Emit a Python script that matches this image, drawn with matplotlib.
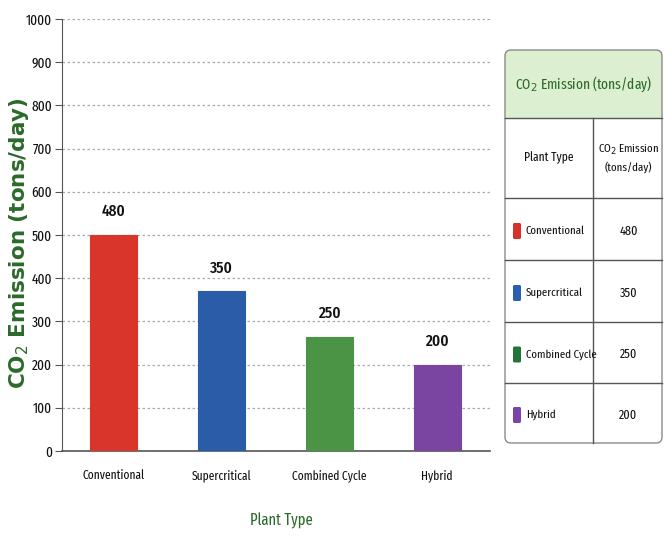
import matplotlib
matplotlib.use("Agg")
import matplotlib.pyplot as plt
from matplotlib.patches import FancyBboxPatch, Rectangle

# data
plant_types = ["Conventional", "Supercritical", "Combined Cycle", "Hybrid"]
bar_heights = [500, 370, 265, 200]      # heights as drawn
label_values = [480, 350, 250, 200]     # numbers printed on the chart / table
bar_colors = ["#d9352b", "#2b5ca8", "#4b9446", "#7a45a0"]
swatch_colors = ["#d8302a", "#2b5db0", "#23733a", "#7b44a8"]
y_ticks = [0, 100, 200, 300, 400, 500, 600, 700, 800, 900, 1000]

NARROW = ["Fira Sans Extra Condensed", "PT Sans Narrow", "DejaVu Sans"]
GREEN = "#2b6a2b"
INK = "#111111"

fig = plt.figure(figsize=(6.65, 5.38), dpi=100)
W, H = 665, 538

ax = fig.add_axes([62 / W, (H - 451) / H, (490 - 62) / W, (451 - 19) / H])
x = range(len(plant_types))
bars = ax.bar(x, bar_heights, width=0.435, color=bar_colors, zorder=3,
              edgecolor=bar_colors, linewidth=0.8)

for b, v in zip(bars, label_values):
    ax.annotate(str(v), (b.get_x() + b.get_width() / 2, b.get_height()),
                xytext=(0, 11), textcoords="offset points", ha="center",
                va="bottom", fontsize=12, fontweight=500, fontfamily=NARROW, color=INK)

ax.set_xlim(-0.48, 3.49)
ax.set_ylim(0, 1000)
ax.set_yticks(y_ticks)
ax.set_xticks(list(x))
ax.set_xticklabels(plant_types, fontsize=9, fontfamily=NARROW, color=INK)
for t in ax.get_yticklabels():
    t.set_fontfamily(NARROW)
    t.set_fontsize(10.5)
    t.set_color(INK)
ax.tick_params(axis="x", length=0, pad=13)
ax.tick_params(axis="y", length=5, color="#555555", pad=2)

for yv in y_ticks[1:]:
    ax.axhline(yv, color="#aaaaaa", linestyle=(0, (2, 2)), linewidth=0.9, zorder=1)

for s in ["top", "right"]:
    ax.spines[s].set_visible(False)
ax.spines["left"].set_color("#555555")
ax.spines["bottom"].set_color("#555555")
ax.spines["bottom"].set_linewidth(1.2)

fig.text(19 / W, 1 - 243 / H, "CO$_2$ Emission (tons/day)", rotation=90,
         ha="center", va="center", fontsize=15.5, fontweight="bold",
         color=GREEN, fontfamily="DejaVu Sans")
fig.text(281 / W, 1 - 521 / H, "Plant Type", ha="center", va="center",
         fontsize=11.5, fontfamily=NARROW, color=GREEN)

# table drawn on an overlay in pixel coordinates
tx = fig.add_axes([0, 0, 1, 1], zorder=5)
tx.set_xlim(0, W)
tx.set_ylim(H, 0)
tx.axis("off")
tx.patch.set_visible(False)

left, right, top, bottom = 505, 662, 50, 443
col_split = 593
row_lines = [118, 198, 260, 322, 383]

tx.add_patch(FancyBboxPatch((left, top), right - left, bottom - top,
                            boxstyle="round,pad=0,rounding_size=6",
                            facecolor="white", edgecolor="none"))
tx.add_patch(FancyBboxPatch((left, top), right - left, row_lines[0] - top,
                            boxstyle="round,pad=0,rounding_size=6",
                            facecolor="#dcefd0", edgecolor="none"))
tx.add_patch(Rectangle((left, row_lines[0] - 10), right - left, 10,
                       facecolor="#dcefd0", edgecolor="none"))
tx.add_patch(FancyBboxPatch((left, top), right - left, bottom - top,
                            boxstyle="round,pad=0,rounding_size=6",
                            facecolor="none", edgecolor="#8a8a8a", linewidth=1.0))
for ry in row_lines:
    tx.plot([left, right], [ry, ry], color="#555555", linewidth=1.0)
tx.plot([col_split, col_split], [row_lines[0], bottom], color="#555555", linewidth=1.0)

tx.text((left + right) / 2, (top + row_lines[0]) / 2, "CO$_2$ Emission (tons/day)",
        ha="center", va="center", fontsize=10.5, fontfamily=NARROW, color=GREEN)
tx.text((left + col_split) / 2, (row_lines[0] + row_lines[1]) / 2, "Plant Type",
        ha="center", va="center", fontsize=9, fontfamily=NARROW, color=INK)
tx.text((col_split + right) / 2 + 1, (row_lines[0] + row_lines[1]) / 2,
        "CO$_2$ Emission\n(tons/day)", ha="center", va="center", fontsize=8.5,
        fontfamily=NARROW, color=INK, linespacing=1.45)

row_edges = row_lines[1:] + [bottom]
for i, (name, val, sc) in enumerate(zip(plant_types, label_values, swatch_colors)):
    yc = (row_edges[i] + row_edges[i + 1]) / 2 + 2
    tx.add_patch(FancyBboxPatch((513, yc - 8), 8, 16,
                                boxstyle="round,pad=0,rounding_size=1.5",
                                facecolor=sc, edgecolor="none"))
    tx.text(526, yc, name, ha="left", va="center", fontsize=8.5,
            fontfamily=NARROW, color=INK)
    tx.text((col_split + right) / 2 + 1, yc, str(val), ha="center", va="center",
            fontsize=9.5, fontfamily=NARROW, color=INK)

fig.savefig("out.png", dpi=100)
